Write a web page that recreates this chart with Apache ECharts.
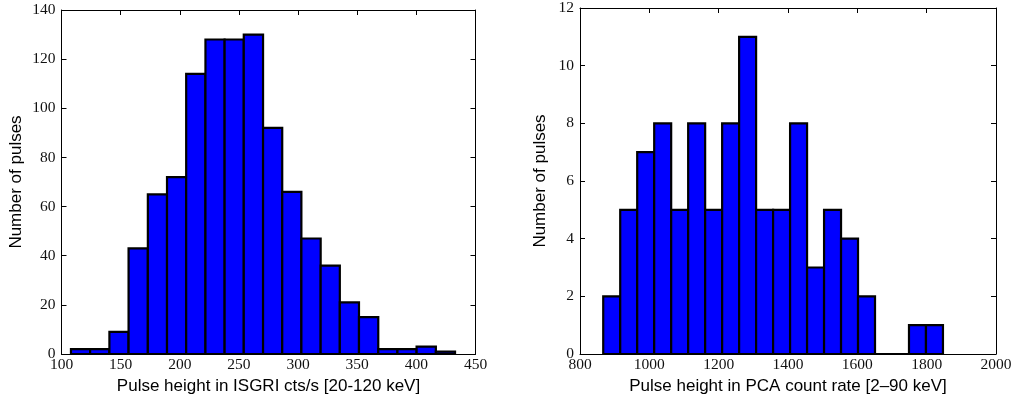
<!DOCTYPE html>
<html>
<head>
<meta charset="utf-8">
<script src="https://cdn.jsdelivr.net/npm/echarts@6/dist/echarts.min.js"></script>
<style>
  html, body { margin: 0; padding: 0; background: #fff; }
  #chart { width: 1015px; height: 400px; }
</style>
</head>
<body>
<div id="chart"></div>
<script>
// ---- Data ----
// Left histogram: ISGRI pulse heights
const isgriEdges = [108.0, 124.2, 140.5, 156.7, 173.0, 189.2, 205.4, 221.7, 237.9, 254.1,
                    270.4, 286.6, 302.8, 319.1, 335.3, 351.5, 367.8, 384.0, 400.2, 416.5, 432.7];
const isgriCounts = [2, 2, 9, 43, 65, 72, 114, 128, 128, 130,
                     92, 66, 47, 36, 21, 15, 2, 2, 3, 1];
const isgriXTicks = [100, 450, 50];   // min, max, interval
const isgriYTicks = [0, 140, 20];

// Right histogram: PCA pulse heights
const pcaEdges = [867, 916, 965, 1014, 1063, 1112, 1161, 1210, 1259, 1308,
                  1357, 1406, 1455, 1504, 1553, 1602, 1651, 1700, 1749, 1798, 1847];
const pcaCounts = [2, 5, 7, 8, 5, 8, 5, 8, 11, 5,
                   5, 8, 3, 5, 4, 2, 0, 0, 1, 1];
const pcaXTicks = [800, 2000, 200];
const pcaYTicks = [0, 12, 2];

const leftXTitle = 'Pulse height in ISGRI cts/s [20-120 keV]';
const rightXTitle = 'Pulse height in PCA count rate [2\u201390 keV]';
const yTitle = 'Number of pulses';

// ---- Build chart ----
function toBins(edges, counts) {
  return counts.map((c, i) => [edges[i], edges[i + 1], c]);
}

const labelFont = { fontFamily: 'Liberation Serif', fontSize: 15.5, color: '#111' };
const titleFont = { fontFamily: 'Liberation Sans', fontSize: 17, color: '#000' };
const lineStyle = { color: '#000', width: 1 };
const plain = v => String(v);

function xAxes(gridIndex, ticks, title) {
  return [
    {
      type: 'value', gridIndex, position: 'bottom',
      min: ticks[0], max: ticks[1], interval: ticks[2],
      axisLine: { show: true, onZero: false, lineStyle },
      axisTick: { show: true, inside: true, length: 5, lineStyle },
      axisLabel: Object.assign({ margin: 3, formatter: plain, showMinLabel: true, showMaxLabel: true }, labelFont),
      splitLine: { show: false },
      name: title, nameLocation: 'middle', nameGap: 21,
      nameTextStyle: titleFont
    },
    {
      type: 'value', gridIndex, position: 'top',
      min: ticks[0], max: ticks[1], interval: ticks[2],
      axisLine: { show: true, onZero: false, lineStyle },
      axisTick: { show: true, inside: true, length: 5, lineStyle },
      axisLabel: { show: false },
      splitLine: { show: false }
    }
  ];
}

function yAxes(gridIndex, ticks, gap) {
  return [
    {
      type: 'value', gridIndex, position: 'left',
      min: ticks[0], max: ticks[1], interval: ticks[2],
      axisLine: { show: true, onZero: false, lineStyle },
      axisTick: { show: true, inside: true, length: 5, lineStyle },
      axisLabel: Object.assign({ margin: 6, formatter: plain, showMinLabel: true, showMaxLabel: true }, labelFont),
      splitLine: { show: false },
      name: yTitle, nameLocation: 'middle', nameGap: gap,
      nameTextStyle: titleFont
    },
    {
      type: 'value', gridIndex, position: 'right',
      min: ticks[0], max: ticks[1], interval: ticks[2],
      axisLine: { show: true, onZero: false, lineStyle },
      axisTick: { show: true, inside: true, length: 5, lineStyle },
      axisLabel: { show: false },
      splitLine: { show: false }
    }
  ];
}

function renderBin(params, api) {
  const x0 = api.value(0), x1 = api.value(1), y = api.value(2);
  const pTop = api.coord([x0, y]);
  const pBot = api.coord([x1, 0]);
  return {
    type: 'rect',
    shape: { x: pTop[0], y: pTop[1], width: pBot[0] - pTop[0], height: pBot[1] - pTop[1] },
    style: { fill: '#0000ff', stroke: '#000', lineWidth: 2.2 }
  };
}

const chart = echarts.init(document.getElementById('chart'), null, { renderer: 'canvas' });
chart.setOption({
  animation: false,
  backgroundColor: '#fff',
  grid: [
    { left: 61.5, right: 539.5, top: 10, bottom: 46 },
    { left: 580, right: 19, top: 6, bottom: 46 }
  ],
  xAxis: [].concat(xAxes(0, isgriXTicks, leftXTitle), xAxes(1, pcaXTicks, rightXTitle)),
  yAxis: [].concat(yAxes(0, isgriYTicks, 37), yAxes(1, pcaYTicks, 31)),
  series: [
    {
      type: 'custom', xAxisIndex: 0, yAxisIndex: 0,
      renderItem: renderBin,
      encode: { x: [0, 1], y: 2 },
      data: toBins(isgriEdges, isgriCounts)
    },
    {
      type: 'custom', xAxisIndex: 2, yAxisIndex: 2,
      renderItem: renderBin,
      encode: { x: [0, 1], y: 2 },
      data: toBins(pcaEdges, pcaCounts)
    }
  ]
});
</script>
</body>
</html>
